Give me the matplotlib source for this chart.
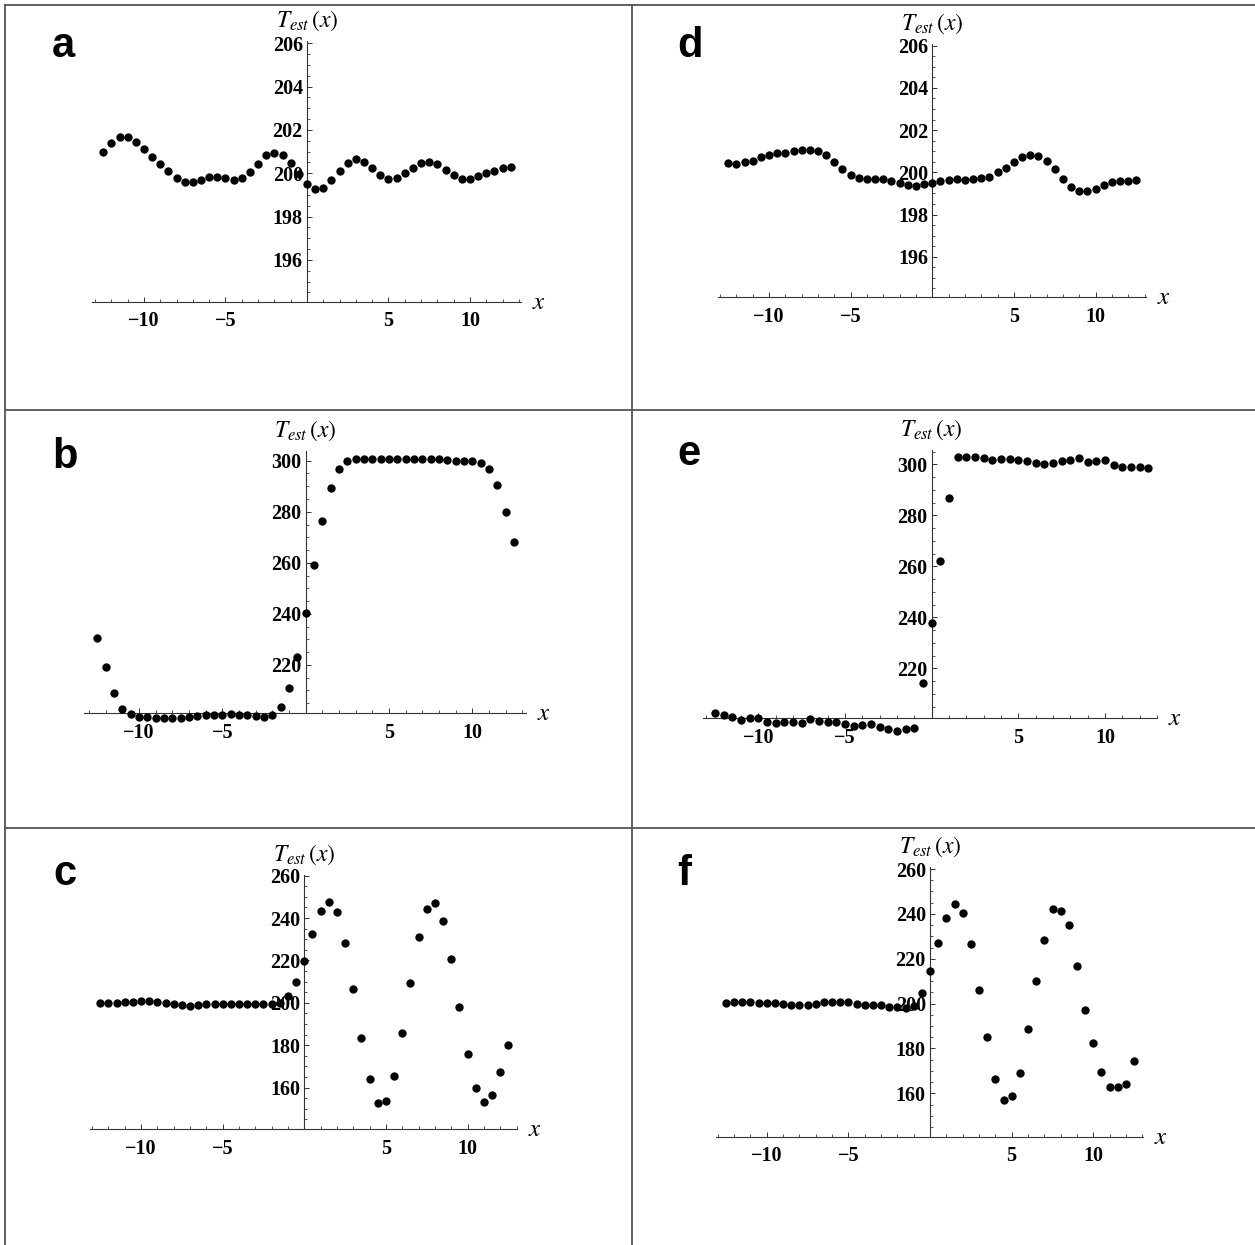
import numpy as np
import matplotlib.pyplot as plt
from matplotlib.lines import Line2D
from matplotlib.ticker import FixedLocator, MultipleLocator

plt.rcParams['mathtext.fontset'] = 'stix'

# sample positions (same grid in all six panels)
x_vals = [-12.5, -12.0, -11.5, -11.0, -10.5, -10.0, -9.5, -9.0, -8.5, -8.0,
          -7.5, -7.0, -6.5, -6.0, -5.5, -5.0, -4.5, -4.0, -3.5, -3.0,
          -2.5, -2.0, -1.5, -1.0, -0.5, 0.0, 0.5, 1.0, 1.5, 2.0,
          2.5, 3.0, 3.5, 4.0, 4.5, 5.0, 5.5, 6.0, 6.5, 7.0,
          7.5, 8.0, 8.5, 9.0, 9.5, 10.0, 10.5, 11.0, 11.5, 12.0, 12.5]

t_a = [200.97, 201.38, 201.65, 201.65, 201.42, 201.10, 200.77, 200.42, 200.10, 199.78,
       199.60, 199.60, 199.70, 199.82, 199.82, 199.77, 199.70, 199.77, 200.05, 200.42,
       200.82, 200.95, 200.86, 200.45, 199.97, 199.50, 199.26, 199.32, 199.70, 200.10,
       200.48, 200.65, 200.50, 200.23, 199.92, 199.74, 199.77, 200.00, 200.25, 200.48,
       200.50, 200.42, 200.14, 199.90, 199.74, 199.74, 199.88, 200.02, 200.12, 200.23, 200.28]

t_b = [230.4, 219.1, 209.1, 202.7, 200.7, 199.7, 199.7, 199.3, 199.3, 199.3,
       199.3, 199.7, 200.0, 200.3, 200.3, 200.5, 200.7, 200.5, 200.3, 200.0,
       199.7, 200.3, 203.4, 210.8, 223.2, 240.2, 259.1, 276.5, 289.2, 296.6,
       300.0, 300.7, 300.5, 300.5, 300.5, 300.5, 300.8, 300.8, 300.8, 300.8,
       300.8, 300.5, 300.3, 300.0, 299.7, 299.7, 299.2, 296.9, 290.3, 279.8, 268.1]

t_c = [200.1, 200.1, 200.1, 200.4, 200.4, 200.9, 200.9, 200.4, 200.1, 199.3,
       198.8, 198.5, 198.8, 199.3, 199.6, 199.6, 199.6, 199.6, 199.6, 199.6,
       199.6, 199.6, 200.0, 203.4, 209.7, 219.9, 232.3, 243.3, 247.7, 243.0,
       228.1, 206.5, 183.3, 163.9, 152.9, 153.7, 165.7, 185.6, 209.2, 230.9,
       244.4, 247.3, 238.8, 220.7, 197.9, 176.0, 160.0, 153.1, 156.5, 167.5, 180.1]

t_d = [200.43, 200.38, 200.47, 200.55, 200.73, 200.80, 200.92, 200.93, 201.01, 201.07,
       201.06, 201.03, 200.84, 200.49, 200.14, 199.86, 199.75, 199.70, 199.68, 199.67,
       199.57, 199.48, 199.40, 199.37, 199.43, 199.48, 199.60, 199.64, 199.68, 199.65,
       199.67, 199.73, 199.80, 200.00, 200.22, 200.50, 200.71, 200.84, 200.79, 200.55,
       200.14, 199.68, 199.32, 199.10, 199.10, 199.21, 199.42, 199.54, 199.59, 199.60, 199.62]

t_e = [202.4, 201.7, 201.0, 199.7, 200.7, 200.4, 199.1, 198.7, 199.0, 199.0,
       198.7, 200.0, 199.3, 199.1, 199.1, 198.2, 197.4, 197.8, 198.2, 197.1,
       196.1, 195.6, 196.1, 196.5, 214.1, 237.6, 262.2, 286.7, 302.7, 303.0,
       302.7, 302.4, 301.7, 302.1, 302.2, 301.7, 301.4, 300.4, 300.1, 300.4,
       301.4, 301.7, 302.4, 301.0, 301.4, 301.7, 299.6, 299.1, 299.1, 299.1, 298.7]

t_f = [200.1, 200.9, 200.9, 200.9, 200.4, 200.1, 200.1, 199.8, 199.2, 199.2,
       199.2, 199.8, 200.6, 200.6, 200.7, 200.7, 199.8, 199.2, 199.2, 199.2,
       198.6, 198.6, 198.2, 199.0, 204.6, 214.5, 226.9, 238.0, 244.2, 240.2,
       226.6, 206.1, 185.0, 166.5, 157.0, 159.0, 169.2, 188.7, 210.2, 228.4,
       242.0, 241.4, 235.0, 216.9, 197.1, 182.3, 169.7, 162.7, 163.0, 164.2, 174.3]

panel_letters = ['a', 'b', 'c', 'd', 'e', 'f']
panel_series = [t_a, t_b, t_c, t_d, t_e, t_f]
x_major = [-10, -5, 5, 10]
y_major_small = [196, 198, 200, 202, 204, 206]
y_major_step = [220, 240, 260, 280, 300]
y_major_wave = [160, 180, 200, 220, 240, 260]

W, H = 1255, 1245
fig = plt.figure(figsize=(W / 100, H / 100), dpi=100)

# layout per panel: pixel box (left, right, top, bottom), xlim, ylim
layout = {
    'a': ((91.8, 520.5, 41.1, 301.7), (-13.2, 13.1), (194.07, 206.1), y_major_small, 0.5),
    'b': ((84.0, 525.7, 451.0, 713.4), (-13.3, 13.2), (201.0, 303.8), y_major_step, 5),
    'c': ((90.4, 516.6, 874.6, 1129.0), (-13.1, 13.0), (140.5, 260.5), y_major_wave, 5),
    'd': ((718.4, 1146.2, 43.6, 296.8), (-13.1, 13.1), (194.1, 206.1), y_major_small, 0.5),
    'e': ((702.9, 1157.0, 450.0, 717.8), (-13.2, 13.0), (200.6, 305.6), y_major_step, 5),
    'f': ((716.1, 1143.3, 866.8, 1136.6), (-13.1, 13.06), (140.7, 261.0), y_major_wave, 5),
}
letter_pos = {'a': (63, 57), 'b': (65, 468), 'c': (65, 885),
              'd': (690, 57), 'e': (689, 465), 'f': (684, 885)}

tick_font = {'family': 'Liberation Serif', 'weight': 'bold', 'size': 14.5}
axis_col = '#333333'

for letter, series in zip(panel_letters, panel_series):
    (l, r, t, b), xl, yl, ymaj, ymin_step = layout[letter]
    ax = fig.add_axes([l / W, 1 - b / H, (r - l) / W, (b - t) / H])
    ax.scatter(x_vals, series, s=36, color='black', zorder=3, clip_on=False,
               linewidths=0)
    ax.set_xlim(*xl)
    ax.set_ylim(*yl)
    ax.patch.set_alpha(0)
    for s in ['top', 'right']:
        ax.spines[s].set_visible(False)
    ax.spines['left'].set_position(('data', 0))
    for s in ['left', 'bottom']:
        ax.spines[s].set_color(axis_col)
        ax.spines[s].set_linewidth(0.8)
    ax.xaxis.set_major_locator(FixedLocator(x_major))
    ax.xaxis.set_minor_locator(MultipleLocator(1))
    ax.yaxis.set_major_locator(FixedLocator(ymaj))
    ax.yaxis.set_minor_locator(MultipleLocator(ymin_step))
    ax.tick_params(which='major', direction='in', length=3.5, width=0.7,
                   color=axis_col)
    ax.tick_params(which='minor', direction='in', length=2, width=0.6,
                   color=axis_col)
    ax.tick_params(axis='x', pad=7)
    ax.tick_params(axis='y', pad=3)
    ax.set_xticklabels([f'\u2212{abs(v)}' if v < 0 else str(v) for v in x_major],
                       fontdict=tick_font)
    ax.set_yticklabels([str(v) for v in ymaj], fontdict=tick_font)
    ax.annotate(r'$T_{est}\,(x)$', xy=(0, 1), xycoords=('data', 'axes fraction'),
                xytext=(0, 10), textcoords='offset points', ha='center',
                va='baseline', fontsize=17)
    ax.annotate(r'$x$', xy=(1, 0), xycoords='axes fraction',
                xytext=(13, 0), textcoords='offset points', ha='center',
                va='center', fontsize=18)
    lx, ly = letter_pos[letter]
    fig.text(lx / W, 1 - ly / H, letter, fontsize=30, fontweight='bold',
             family='Liberation Sans', ha='center', va='baseline')

# panel frame lines
border_col = '#555555'
for xp in [5, 632]:
    fig.add_artist(Line2D([xp / W, xp / W], [0, 1 - 5 / H], color=border_col, lw=1.3))
for yp in [5, 410, 828]:
    fig.add_artist(Line2D([5 / W, 1], [1 - yp / H, 1 - yp / H], color=border_col, lw=1.3))

fig.savefig('out.png', dpi=100)
